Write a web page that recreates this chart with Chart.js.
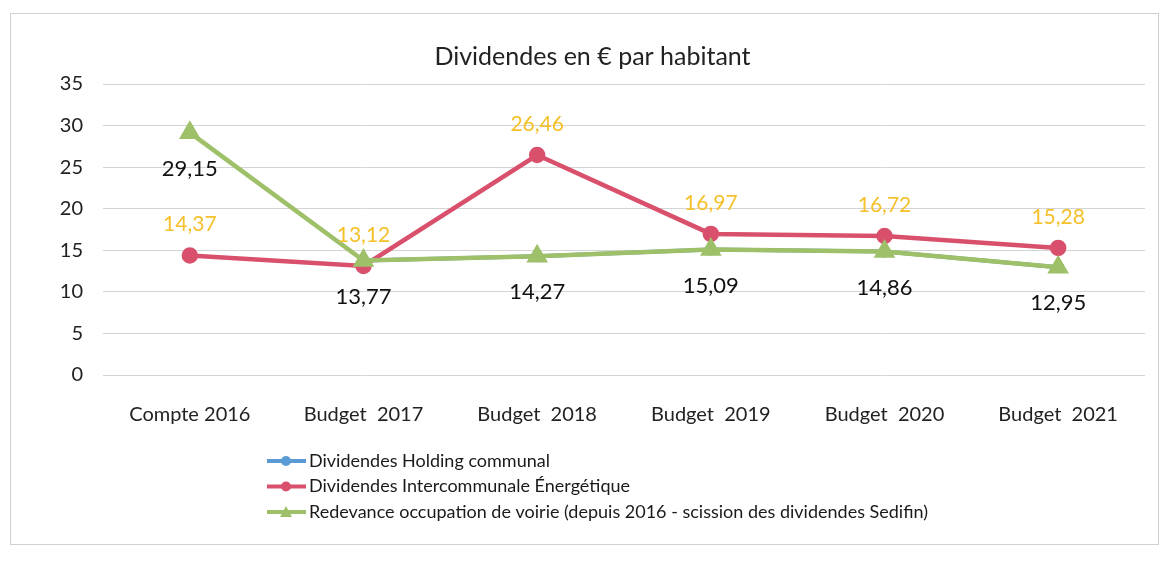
<!DOCTYPE html>
<html>
<head>
<meta charset="utf-8">
<script src="https://cdn.jsdelivr.net/npm/chart.js@4/dist/chart.umd.min.js"></script>
<style>
  html, body { margin: 0; padding: 0; background: #fff; }
  #wrap { width: 1166px; height: 561px; position: relative; }
</style>
</head>
<body>
<div id="wrap"><canvas id="chart"></canvas></div>
<script>
const categories = ['Compte 2016', 'Budget  2017', 'Budget  2018', 'Budget  2019', 'Budget  2020', 'Budget  2021'];
const holding = [null, 13.77, 14.27, 15.09, 14.86, 12.95];
const intercommunale = [14.37, 13.12, 26.46, 16.97, 16.72, 15.28];
const redevance = [29.15, 13.77, 14.27, 15.09, 14.86, 12.95];
const yTicks = [0, 5, 10, 15, 20, 25, 30, 35];

const FONT = 'Lato, "Open Sans", sans-serif';
const fmt = (v) => v.toFixed(2).replace('.', ',');

// étiquettes de valeurs + légende verticale + cadre
const extras = {
  id: 'extras',
  afterDatasetsDraw(chart) {
    const ctx = chart.ctx;
    chart.data.datasets.forEach((ds, i) => {
      if (!ds.labelColor) return;
      const meta = chart.getDatasetMeta(i);
      ctx.save();
      ctx.fillStyle = ds.labelColor;
      ctx.font = `${ds.labelSize}px ${FONT}`;
      ctx.textAlign = 'center';
      ctx.textBaseline = 'middle';
      meta.data.forEach((pt, j) => {
        if (ds.data[j] == null) return;
        ctx.fillText(fmt(ds.data[j]), pt.x, pt.y + ds.labelOffset);
      });
      ctx.restore();
    });
  },
  afterDraw(chart) {
    const ctx = chart.ctx;
    ctx.save();
    ctx.strokeStyle = '#d0d0d0';
    ctx.lineWidth = 1;
    ctx.strokeRect(10.5, 13.5, 1148, 531);
    ctx.font = `18px ${FONT}`;
    ctx.textBaseline = 'middle';
    chart.data.datasets.forEach((ds, i) => {
      const y = 461 + i * 25.5;
      ctx.strokeStyle = ds.borderColor;
      ctx.lineWidth = 4;
      ctx.beginPath();
      ctx.moveTo(267, y);
      ctx.lineTo(306, y);
      ctx.stroke();
      ctx.fillStyle = ds.backgroundColor;
      ctx.beginPath();
      if (ds.pointStyle === 'triangle') {
        ctx.moveTo(286, y - 6); ctx.lineTo(292, y + 5); ctx.lineTo(280, y + 5); ctx.closePath();
      } else {
        ctx.arc(286, y, 5, 0, Math.PI * 2);
      }
      ctx.fill();
      ctx.fillStyle = '#1a1a1a';
      ctx.fillText(ds.label, 309, y);
    });
    ctx.restore();
  },
};

new Chart(document.getElementById('chart'), {
  type: 'line',
  data: {
    labels: categories,
    datasets: [
      {
        label: 'Dividendes Holding communal',
        data: holding, order: 3,
        borderColor: '#5b9bd5', backgroundColor: '#5b9bd5',
        borderWidth: 4, pointRadius: 4, pointStyle: 'circle',
      },
      {
        label: 'Dividendes Intercommunale Énergétique',
        data: intercommunale, order: 2,
        borderColor: '#d9506d', backgroundColor: '#d9506d',
        borderWidth: 4.5, pointRadius: 6, pointStyle: 'circle',
        labelColor: '#f5c02a', labelSize: 21, labelOffset: -31,
      },
      {
        label: 'Redevance occupation de voirie (depuis 2016 - scission des dividendes Sedifin)',
        data: redevance, order: 1,
        borderColor: '#9dc068', backgroundColor: '#9dc068',
        borderWidth: 4.5, pointRadius: 8, pointStyle: 'triangle',
        labelColor: '#111', labelSize: 22, labelOffset: 36,
      },
    ],
  },
  options: {
    responsive: true,
    maintainAspectRatio: false,
    animation: false,
    spanGaps: false,
    layout: { padding: { left: 40, right: 21, top: 0, bottom: 136 } },
    plugins: {
      legend: { display: false },
      tooltip: { enabled: false },
      title: {
        display: true,
        text: 'Dividendes en € par habitant',
        color: '#222',
        font: { family: FONT, size: 25, weight: 'normal' },
        padding: { top: 42, bottom: 12 },
      },
    },
    scales: {
      x: {
        offset: true,
        grid: { display: false },
        border: { display: false },
        ticks: { color: '#222', font: { family: FONT, size: 20 }, padding: 20, maxRotation: 0 },
        afterFit: (s) => { s.height = 50; },
      },
      y: {
        min: 0, max: 35,
        afterBuildTicks: (s) => { s.ticks = yTicks.map((v) => ({ value: v })); },
        grid: { color: '#d4d4d4', drawTicks: false },
        border: { display: false },
        ticks: { color: '#222', font: { family: FONT, size: 20 }, padding: 20 },
        afterFit: (s) => { s.width = 63; },
      },
    },
  },
  plugins: [extras],
});
</script>
</body>
</html>
